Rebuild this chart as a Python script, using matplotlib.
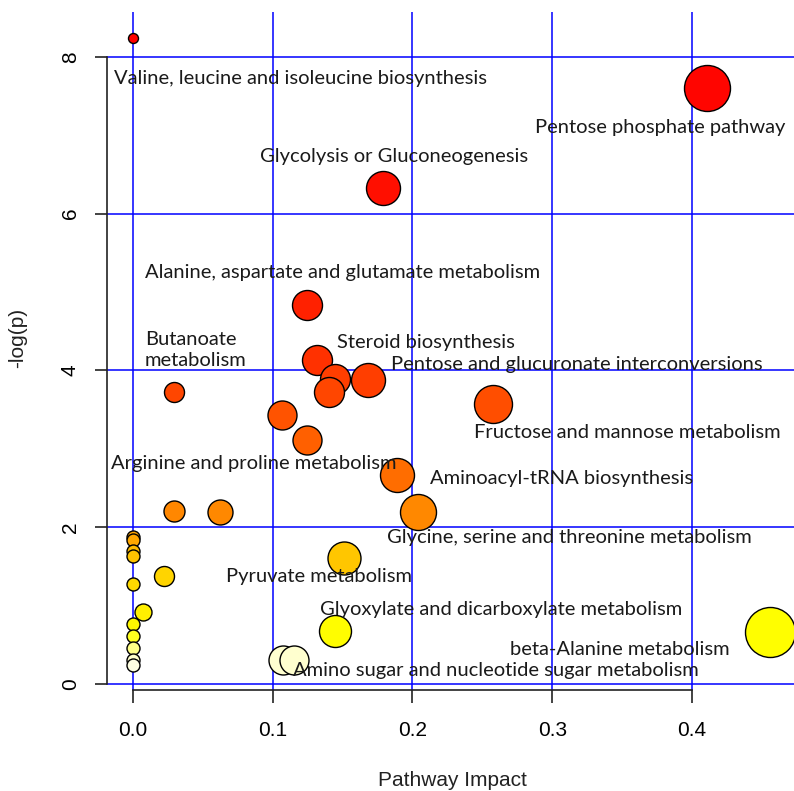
import numpy as np
import matplotlib
matplotlib.use("Agg")
import matplotlib.pyplot as plt

# pathway impact (x), -log(p) (y), bubble radius (px)
impact = [0.000, 0.4105, 0.179, 0.1247, 0.132, 0.1446, 0.168, 0.140, 0.0293,
          0.1066, 0.1247, 0.2574, 0.189, 0.204, 0.0293, 0.062,
          0.000, 0.000, 0.000, 0.000, 0.000, 0.000, 0.000, 0.000, 0.000, 0.000,
          0.0222, 0.0069, 0.151, 0.1446, 0.1076, 0.115, 0.456]
logp = [8.24, 7.60, 6.33, 4.84, 4.13, 3.89, 3.88, 3.72, 3.72,
        3.43, 3.11, 3.57, 2.66, 2.19, 2.21, 2.19,
        1.88, 1.84, 1.69, 1.63, 1.27, 0.77, 0.61, 0.46, 0.31, 0.24,
        1.38, 0.92, 1.61, 0.68, 0.30, 0.30, 0.667]
bubble_r = [5, 23, 17, 15, 15, 15, 17, 15, 10,
            14.5, 14.5, 19, 17, 18, 10.5, 12.5,
            6.5, 6.5, 6.5, 6.5, 6.5, 6.5, 6.5, 6.5, 6.5, 6.5,
            10, 8.5, 16.5, 16, 14.5, 14.5, 25]

labels = ["Valine, leucine and isoleucine biosynthesis",
          "Pentose phosphate pathway",
          "Glycolysis or Gluconeogenesis",
          "Alanine, aspartate and glutamate metabolism",
          "Steroid biosynthesis",
          "Pentose and glucuronate interconversions",
          "Fructose and mannose metabolism",
          "Arginine and proline metabolism",
          "Aminoacyl-tRNA biosynthesis",
          "Glycine, serine and threonine metabolism",
          "Pyruvate metabolism",
          "Glyoxylate and dicarboxylate metabolism",
          "beta-Alanine metabolism",
          "Amino sugar and nucleotide sugar metabolism"]
label_x = [0.1202, 0.3775, 0.1868, 0.1503, 0.2097, 0.3174, 0.3535, 0.0866,
           0.3068, 0.312, 0.1329, 0.2636, 0.3487, 0.2596]
label_y = [7.72, 7.10, 6.73, 5.25, 4.35, 4.07, 3.205, 2.815,
           2.624, 1.871, 1.369, 0.953, 0.434, 0.166]

# heat colour scale (y -> red/green/blue)
stop_y = [0.2, 0.35, 0.5, 0.65, 0.95, 1.3, 1.6, 1.85, 2.2, 2.7, 3.1, 3.6, 4.2, 4.8, 6.3, 7.6, 8.3]
stop_g = [1.0, 1.0, 1.0, 1.0, 0.93, 0.85, 0.78, 0.65, 0.53, 0.42, 0.38, 0.30, 0.18, 0.13, 0.06, 0.02, 0.0]
stop_b = [0.93, 0.75, 0.45, 0.0, 0, 0, 0, 0, 0, 0, 0, 0, 0, 0, 0, 0, 0]

fig = plt.figure(figsize=(7.94, 7.91), dpi=100)
ax = fig.add_axes([107 / 794, 1 - 690 / 791, 687 / 794, 678 / 791])

x = np.array(impact)
y = np.array(logp)
r = np.array(bubble_r)
cols = [(1.0, np.interp(v, stop_y, stop_g), np.interp(v, stop_y, stop_b)) for v in y]
order = np.argsort(-y, kind="stable")
for i in order:
    ax.scatter(x[i], y[i], s=(2 * r[i] * 0.72) ** 2, color=cols[i],
               edgecolor="black", linewidth=1.0, zorder=3)

for t, lx, ly in zip(labels, label_x, label_y):
    ax.text(lx, ly, t, ha="center", va="center", fontsize=14.5,
            family="Lato", color="#1a1a1a", zorder=4)
ax.text(0.0086, 4.26, "Butanoate\nmetabolism", ha="left", va="center",
        fontsize=14.5, family="Lato", color="#1a1a1a", linespacing=1.35, zorder=4)

ax.set_xlim(-0.0186, 0.473)
ax.set_ylim(-0.0765, 8.571)
ax.set_xticks([0.0, 0.1, 0.2, 0.3, 0.4])
ax.set_xticklabels(["0.0", "0.1", "0.2", "0.3", "0.4"])
ax.set_yticks([0, 2, 4, 6, 8])
ax.set_yticklabels(["0", "2", "4", "6", "8"], rotation=90, va="center")

ax.set_axisbelow(True)
ax.grid(True, color="#0000ff", linewidth=1.1)

for s in ["top", "right"]:
    ax.spines[s].set_visible(False)
ax.spines["left"].set_bounds(0, 8)
ax.spines["bottom"].set_bounds(0, 0.4)
for s in ["left", "bottom"]:
    ax.spines[s].set_linewidth(1.2)
    ax.spines[s].set_color("#222222")
ax.tick_params(axis="x", direction="out", length=9.4, width=1.2, color="#222222",
               pad=13, labelsize=15, labelfontfamily="Liberation Sans")
ax.tick_params(axis="y", direction="out", length=8.6, width=1.2, color="#222222",
               pad=11, labelsize=15, labelfontfamily="Liberation Sans")

fig.text(452 / 794, 1 - 780 / 791, "Pathway Impact", ha="center", va="center",
         fontsize=15, family="Liberation Sans", color="#222222")
fig.text(18 / 794, 1 - 338 / 791, "-log(p)", ha="center", va="center",
         rotation=90, fontsize=15, family="Liberation Sans", color="#222222")

fig.savefig("out.png", dpi=100)
